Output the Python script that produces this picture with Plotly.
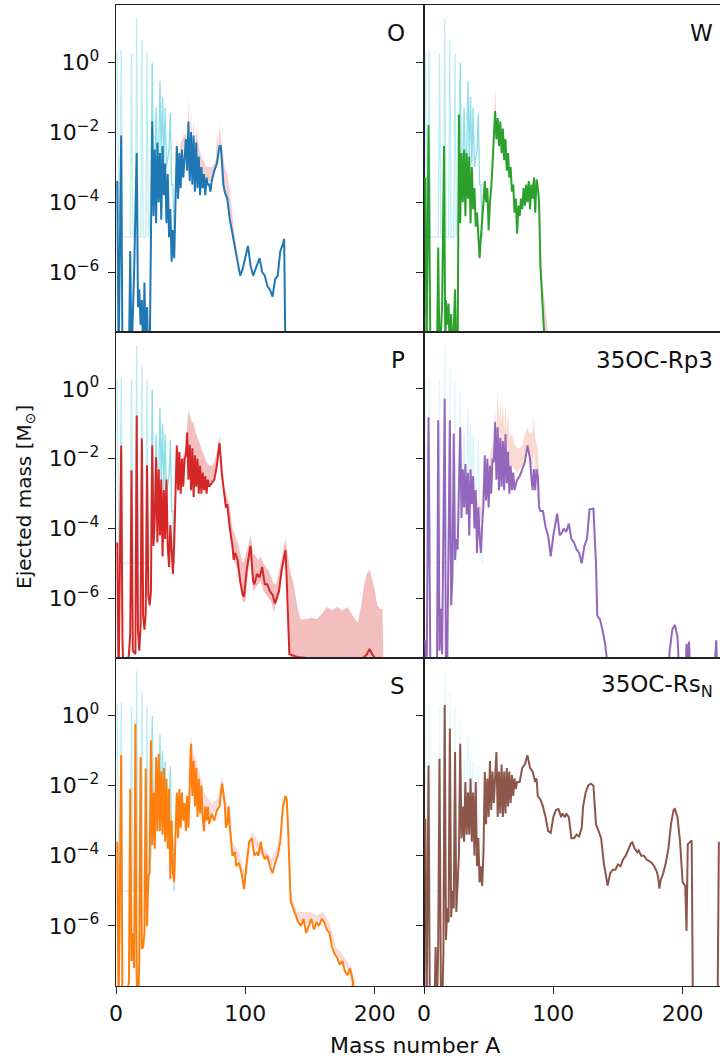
import plotly.graph_objects as go

# ---------------- data: (mass number A, log10 ejected mass [Msun]) ----------------
o_line = [(1,-3.4),(2,-8.5),(4,-2.1),(5,-8.5),(10,-8.5),(11,-5.4),(12,-8.5),(14,-6.0),(16,-2.6),(17,-7.0),
          (18,-6.5),(19,-7.5),(20,-6.8),(21,-8.5),(22,-6.3),(23,-8.5),(24,-7.0),(25,-8.5),(26,-8.5),(28,-1.7),
          (29,-4.4),(30,-2.5),(31,-4.6),(32,-2.3),(33,-4.0),(34,-2.6),(35,-4.5),(36,-2.4),(37,-3.8),(38,-2.9),
          (39,-4.6),(40,-3.2),(41,-5.0),(42,-4.2),(43,-5.7),(44,-4.8),(45,-5.6),(46,-3.6),(47,-2.4),(48,-3.9),
          (49,-2.6),(50,-3.6),(51,-2.5),(52,-3.3),(53,-2.8),(54,-2.2),(55,-3.1),(56,-1.7),(57,-3.4),(58,-2.0),
          (59,-3.5),(60,-2.1),(61,-3.7),(62,-2.3),(63,-3.6),(64,-2.7),(65,-3.8),(66,-3.0),(67,-3.6),(68,-3.2),
          (69,-3.8),(70,-3.3),(71,-3.5),(72,-3.5),(73,-3.7),(74,-3.4),(76,-3.1),(78,-2.9),(80,-2.4),(81,-2.4),
          (82,-2.9),(83,-3.5),(84,-3.7),(86,-3.9),(88,-4.5),(90,-4.9),(92,-5.4),(94,-5.7),(96,-6.1),(98,-5.9),
          (100,-5.6),(102,-5.25),(104,-5.8),(106,-6.1),(108,-5.9),(110,-5.7),(111,-5.6),(113,-6.0),(115,-6.1),
          (117,-6.4),(119,-6.5),(121,-6.7),(123,-6.2),(125,-6.1),(127,-5.4),(129,-5.2),(130,-5.05),(131,-8.5)]
o_band_A  = [46, 47, 48, 50, 54, 55, 56, 57, 58, 59, 60, 61, 62, 64, 66, 70, 74, 77, 78, 79, 80, 81, 82, 84, 86, 88, 90, 92, 94]
o_band_hi = [-3.5,-2.1,-3.2,-2.3,-2.0,-2.6,-1.0,-2.6,-1.3,-2.7,-1.6,-2.7,-1.9,-2.4,-2.7,-3.0,-3.0,-2.8,-2.0,-2.5,
             -1.8,-2.2,-2.4,-3.0,-3.2,-3.7,-4.4,-5.0,-5.5]
o_band_lo = [-3.6,-2.5,-3.6,-2.7,-2.3,-3.0,-1.8,-3.2,-2.1,-3.3,-2.2,-3.5,-2.4,-2.8,-3.1,-3.4,-3.4,-3.1,-2.9,-2.9,
             -2.5,-2.5,-2.9,-3.7,-3.9,-4.5,-4.9,-5.4,-5.7]

w_line = [(1,-3.3),(2,-8.5),(3.5,-1.8),(5,-8.5),(10,-8.5),(11,-5.3),(12,-8.5),(14,-7.0),(15.5,-2.4),(16.5,-8.5),
          (17,-6.8),(18,-7.5),(19,-6.9),(20,-8.5),(21,-7.2),(22,-8.5),(23,-7.6),(24,-6.5),(25,-8.5),(26,-8.5),
          (27,-1.5),(28,-4.6),(29,-2.6),(30,-4.0),(31,-2.5),(32,-4.4),(33,-2.6),(34,-3.9),(35,-2.7),(36,-4.6),
          (37,-3.0),(38,-4.2),(39,-3.6),(40,-4.7),(41,-4.3),(42,-5.0),(43,-5.6),(44,-5.0),(45,-4.6),(46,-4.0),
          (47,-3.4),(48,-4.0),(49,-3.6),(50,-4.8),(51,-4.0),(52,-3.6),(53,-2.9),(54,-2.3),(55,-1.4),(56,-2.2),
          (57,-1.6),(58,-2.4),(59,-1.7),(60,-2.6),(61,-1.9),(62,-2.8),(63,-2.2),(64,-3.1),(65,-2.6),(66,-3.3),
          (67,-3.0),(68,-3.7),(69,-3.5),(70,-4.3),(71,-3.9),(72,-4.9),(73,-4.1),(74,-4.4),(75,-3.9),(76,-4.2),
          (77,-3.6),(78,-4.1),(79,-3.5),(80,-4.0),(81,-3.4),(82,-4.2),(83,-3.5),(84,-3.9),(85,-3.3),(86,-4.3),
          (87,-3.35),(88,-3.6),(89,-4.0),(90,-5.8),(91,-6.4),(92,-7.3),(94,-8.5)]
w_band_A  = [54, 55, 56, 58, 60, 62, 64, 65, 87, 88, 89, 90, 91, 92, 93, 94, 95, 96, 97]
w_band_hi = [-1.8,-0.7,-1.7,-1.8,-2.0,-2.1,-2.8,-3.0,-3.4,-3.4,-3.6,-5.0,-5.8,-6.4,-6.8,-7.1,-7.4,-7.7,-8.5]
w_band_lo = [-2.2,-1.5,-2.2,-2.3,-2.5,-2.6,-3.0,-3.0,-3.4,-3.6,-4.0,-5.9,-6.6,-7.5,-8.5,-8.5,-8.5,-8.5,-8.5]

p_line = [(1,-4.4),(2,-8.5),(4,-1.62),(5,-7.2),(6,-8.5),(10,-7.6),(11,-7.0),(12,-2.33),(13,-7.5),(15,-7.6),
          (16,-0.76),(17,-6.9),(18,-7.5),(19,-6.8),(20,-1.42),(21,-6.5),(22,-6.9),(23,-6.4),(24,-2.19),(25,-5.9),
          (26,-6.2),(27,-5.8),(28,-1.62),(29,-4.5),(30,-3.7),(31,-1.96),(32,-4.4),(33,-2.3),(34,-4.2),(35,-2.6),
          (36,-4.8),(37,-2.9),(38,-4.3),(39,-2.6),(40,-4.5),(41,-5.1),(42,-3.9),(43,-4.8),(44,-5.3),(45,-4.4),
          (46,-3.2),(47,-1.62),(48,-2.9),(49,-1.8),(50,-3.0),(51,-2.0),(52,-2.8),(53,-2.0),(54,-1.9),(55,-1.25),
          (56,-2.6),(57,-1.6),(58,-2.9),(59,-1.7),(60,-3.1),(61,-1.9),(62,-2.8),(63,-2.0),(64,-3.0),(65,-2.2),
          (66,-3.0),(67,-2.4),(68,-2.9),(69,-2.5),(70,-3.0),(71,-2.6),(72,-2.8),(74,-2.7),(76,-2.6),(78,-2.2),
          (80,-1.55),(82,-2.5),(84,-3.2),(85,-3.4),(86,-3.3),(87,-3.7),(88,-4.0),(90,-4.5),(91,-4.9),(92,-4.7),
          (94,-4.9),(96,-5.5),(98,-5.9),(99,-5.95),(101,-5.2),(103,-4.7),(104,-4.5),(106,-5.5),(107,-5.6),
          (109,-5.3),(111,-5.4),(113,-5.1),(115,-5.6),(117,-5.6),(119,-5.8),(121,-5.9),(123,-6.15),(125,-5.9),
          (126,-5.8),(128,-5.2),(131,-4.62),(132,-5.5),(134,-7.6),(140,-7.68),(150,-7.72),(160,-7.75),
          (170,-7.8),(180,-7.8),(190,-7.75),(194,-7.6),(196,-7.45),(198,-7.6),(202,-7.8),(206,-8.0),(207,-8.5)]
p_band_A  = [44,46,47,48,50,52,54,55,56,58,60,62,64,66,68,70,72,74,76,78,80,82,84,86,88,90,92,94,96,98,
             100,102,104,106,108,110,112,114,116,118,120,122,124,126,128,130,131,133,135,137,139,141,143,147,
             151,155,159,163,167,171,175,179,183,187,190,192,194,196,198,200,202,204,206,207]
p_band_hi = [-4.8,-2.9,-1.5,-2.4,-2.3,-1.9,-1.7,-1.0,-0.62,-0.9,-1.0,-1.3,-1.5,-1.7,-1.9,-2.1,-2.2,-2.2,-2.1,-1.8,
             -1.35,-2.1,-2.9,-3.1,-3.4,-4.0,-4.2,-4.4,-4.7,-5.0,-4.8,-4.5,-4.2,-4.7,-4.8,-4.9,-4.8,-5.0,-5.1,-5.2,
             -5.4,-5.6,-5.6,-5.2,-4.9,-4.5,-4.3,-4.8,-5.28,-5.55,-6.0,-6.4,-6.6,-6.6,-6.55,-6.6,-6.45,-6.25,-6.35,
             -6.25,-6.35,-6.25,-6.5,-6.7,-6.1,-5.57,-5.28,-5.19,-5.45,-5.76,-6.2,-6.3,-6.3,-8.5]
p_band_lo = [-5.3,-3.3,-1.9,-2.9,-2.9,-2.5,-2.1,-1.5,-2.2,-2.3,-2.4,-2.5,-2.6,-2.7,-2.7,-2.8,-2.8,-2.7,-2.6,-2.3,
             -1.7,-2.6,-3.3,-3.5,-4.1,-4.7,-5.0,-5.2,-5.7,-6.1,-6.1,-5.3,-4.8,-5.8,-5.7,-5.6,-5.5,-5.8,-5.9,-6.0,
             -6.1,-6.4,-6.1,-6.0,-5.4,-5.0,-4.9,-5.8] + [-8.5] * 26

r_line = [(1,-7.2),(2,-8.5),(3.5,-0.81),(5,-8.5),(10,-8.5),(11,-0.9),(12,-7.5),(13,-6.3),(14,-7.6),(16,-0.28),
          (17,-8.5),(18,-7.8),(20,-0.9),(21,-6.2),(22,-5.4),(23,-1.28),(24,-4.9),(25,-4.3),(26,-4.6),(28,-1.1),
          (29,-3.7),(30,-2.3),(31,-3.4),(32,-2.15),(33,-3.6),(34,-2.4),(35,-4.2),(36,-2.3),(37,-3.3),(38,-2.5),
          (39,-4.0),(40,-2.9),(41,-4.7),(42,-3.4),(43,-4.2),(44,-4.7),(45,-3.9),(46,-3.3),(47,-1.9),(48,-3.2),
          (49,-2.0),(50,-3.4),(51,-2.2),(52,-3.0),(53,-2.0),(54,-2.1),(55,-0.95),(56,-2.6),(57,-1.1),(58,-2.9),
          (59,-1.4),(60,-2.8),(61,-1.5),(62,-2.9),(63,-1.3),(64,-2.7),(65,-1.8),(66,-3.0),(67,-2.2),(68,-2.9),
          (69,-2.4),(70,-2.9),(72,-2.6),(74,-2.5),(76,-2.3),(78,-2.1),(80,-1.62),(82,-2.0),(83,-2.5),(84,-2.9),
          (85,-2.3),(86,-2.9),(87,-2.3),(88,-2.5),(89,-3.4),(90,-3.5),(92,-3.5),(94,-3.96),(96,-4.2),(98,-4.8),
          (100,-4.2),(102,-3.7),(103,-3.57),(105,-4.2),(107,-4.1),(108,-4.0),(110,-4.1),(112,-3.86),(114,-4.3),
          (116,-4.4),(118,-4.6),(120,-4.7),(122,-5.0),(124,-4.5),(126,-4.3),(128,-3.45),(131,-3.43),(133,-5.0),
          (134,-6.5),(136,-6.6),(138,-6.9),(140,-7.3),(142,-7.9),(144,-8.5),(188,-8.5),(190,-7.5),(192,-6.9),
          (194,-6.76),(196,-7.1),(198,-8.5),(202,-8.5),(203,-7.3),(204,-7.8),(205,-7.24),(206,-8.5),
          (224,-8.5),(226,-7.2),(227,-8.5)]
r_band_A  = [40, 42, 44, 46, 47, 48, 50, 52, 54, 55, 56, 57, 58, 59, 60, 61, 62, 63, 64, 65, 66, 68, 70, 72,
             74, 76, 78, 80, 82, 84, 85, 86, 88, 90]
r_band_hi = [-3.0,-3.3,-3.4,-2.6,-1.7,-2.6,-2.3,-1.7,-1.6,-0.6,-1.2,0.05,-1.0,-0.3,-1.0,-0.4,-1.2,-0.4,-1.2,-0.7,
             -1.4,-1.3,-1.6,-1.7,-1.7,-1.6,-1.3,-1.1,-1.3,-1.2,-0.76,-1.4,-1.7,-3.0]
r_band_lo = [-3.3,-3.7,-3.8,-3.0,-2.2,-3.0,-2.8,-2.2,-2.1,-1.2,-2.0,-0.9,-2.0,-1.2,-2.0,-1.3,-2.1,-1.3,-2.0,-1.6,
             -2.2,-2.2,-2.3,-2.4,-2.3,-2.2,-2.0,-1.7,-2.0,-2.2,-1.8,-2.3,-2.4,-3.4]

s_line = [(1,-3.6),(2,-8.5),(4,-1.14),(5,-8.5),(10,-7.6),(11,-2.1),(12,-7.0),(13,-6.2),(14,-7.2),(15,-0.24),
          (16,-7.5),(17,-8.5),(18,-7.0),(19,-1.19),(20,-6.65),(21,-6.6),(22,-6.2),(23,-1.52),(24,-6.0),(25,-4.6),
          (26,-4.48),(27,-0.71),(28,-3.7),(29,-2.2),(30,-3.8),(31,-1.2),(32,-3.3),(33,-1.1),(34,-3.3),(35,-1.6),
          (36,-3.4),(37,-1.5),(38,-3.6),(39,-1.8),(40,-3.8),(41,-2.1),(42,-4.66),(43,-3.0),(44,-4.5),(45,-4.75),
          (46,-3.4),(47,-2.2),(48,-3.5),(49,-2.1),(50,-3.2),(51,-2.2),(52,-3.0),(53,-2.5),(54,-3.3),(55,-2.3),
          (56,-3.2),(57,-1.6),(58,-0.81),(59,-2.3),(60,-1.3),(61,-2.6),(62,-1.5),(63,-2.9),(64,-1.8),(65,-2.8),
          (66,-2.0),(67,-2.9),(68,-3.3),(69,-2.6),(70,-3.0),(71,-2.6),(72,-3.1),(74,-2.8),(76,-3.0),(78,-2.7),
          (80,-2.6),(82,-1.95),(84,-2.5),(85,-3.2),(86,-3.1),(87,-2.6),(88,-3.2),(90,-4.0),(92,-3.9),(93,-4.3),
          (95,-4.2),(97,-4.48),(99,-4.95),(101,-4.2),(103,-3.6),(105,-3.5),(107,-4.0),(109,-3.9),(110,-4.0),
          (112,-3.6),(113,-3.9),(115,-4.1),(117,-4.0),(119,-4.3),(121,-4.5),(123,-4.2),(125,-4.0),(127,-3.6),
          (129,-2.6),(131,-2.3),(132,-2.4),(133,-3.2),(135,-5.3),(137,-5.5),(139,-5.7),(141,-5.9),(143,-6.0),
          (145,-5.8),(147,-6.2),(149,-6.0),(151,-5.8),(153,-6.1),(155,-5.9),(157,-6.0),(159,-5.8),(161,-5.9),
          (163,-6.1),(165,-6.2),(167,-6.6),(169,-6.8),(171,-6.9),(173,-7.1),(175,-7.0),(177,-7.3),(179,-7.4),
          (181,-7.2),(183,-7.55),(185,-8.5)]
s_band_A  = [56,58,60,62,64,66,68,70,74,78,82,84,86,88,90,95,100,105,110,115,120,125,130,132,135,140,145,150,155,
             160,165,170,175,180,185]
s_band_hi = [-1.2,-0.6,-1.1,-1.3,-1.6,-1.8,-2.2,-2.3,-2.5,-2.4,-1.75,-2.2,-2.6,-2.6,-3.6,-3.9,-4.6,-3.3,-3.6,-3.8,
             -4.1,-3.7,-2.6,-2.2,-5.0,-5.6,-5.6,-5.6,-5.7,-5.6,-5.9,-6.6,-6.8,-7.1,-7.6]
s_band_lo = [-2.0,-1.3,-1.8,-2.0,-2.3,-2.4,-2.8,-2.8,-2.8,-2.7,-2.1,-2.5,-2.9,-3.0,-4.0,-4.2,-4.8,-3.5,-3.9,-4.0,
             -4.3,-3.9,-2.7,-2.4,-5.3,-5.8,-5.9,-5.9,-5.9,-5.8,-6.1,-6.8,-7.0,-7.3,-8.5]

n_line = [(1,-2.95),(2,-8.5),(3.5,-1.43),(4.5,-8.5),(8,-8.5),(9,-6.6),(10,-8.5),(11,-6.5),(12,-1.24),(13,-7.6),
          (14,-8.5),(15,-6.8),(16,0.29),(17,-6.4),(18,-5.5),(19,-5.9),(20,-0.38),(21,-5.75),(22,-5.0),(23,-5.5),
          (24,-1.05),(25,-5.6),(26,-4.8),(27,-4.0),(28,-0.81),(29,-3.5),(30,-2.6),(31,-3.6),(32,-1.9),(33,-3.4),
          (34,-2.2),(35,-3.4),(36,-1.8),(37,-3.6),(38,-2.2),(39,-4.0),(40,-1.9),(41,-4.3),(42,-3.5),(43,-4.76),
          (44,-4.3),(45,-4.86),(46,-3.9),(47,-1.62),(48,-3.1),(49,-1.8),(50,-2.9),(51,-1.3),(52,-2.7),(53,-1.6),
          (54,-2.5),(55,-1.6),(56,-1.05),(57,-2.9),(58,-1.6),(59,-2.8),(60,-1.4),(61,-2.9),(62,-1.6),(63,-2.8),
          (64,-1.5),(65,-2.6),(66,-1.6),(67,-2.5),(68,-1.7),(69,-2.3),(70,-1.8),(71,-2.1),(72,-1.9),(74,-1.9),
          (76,-1.5),(78,-1.4),(80,-1.14),(82,-1.5),(84,-1.6),(86,-1.9),(87,-1.8),(88,-2.3),(90,-2.4),(92,-2.6),
          (94,-2.9),(96,-3.3),(98,-3.35),(100,-2.9),(102,-2.7),(104,-2.67),(106,-2.9),(107,-2.8),(109,-2.9),
          (110,-2.8),(112,-2.9),(114,-3.5),(116,-3.5),(118,-3.4),(120,-3.45),(122,-3.2),(123,-2.6),(125,-2.2),
          (127,-2.0),(129,-1.95),(131,-2.0),(133,-3.1),(135,-3.3),(137,-3.5),(139,-4.2),(141,-4.7),(142,-4.85),
          (144,-4.5),(146,-4.4),(148,-4.4),(150,-4.25),(152,-4.3),(154,-4.1),(156,-4.0),(158,-3.8),(160,-3.65),
          (161,-3.62),(163,-3.8),(165,-3.9),(166,-3.85),(168,-4.0),(170,-4.0),(172,-4.1),(174,-4.15),(176,-4.2),
          (178,-4.3),(180,-4.45),(181,-4.6),(182,-4.94),(183,-4.7),(185,-4.5),(187,-4.2),(189,-3.8),(191,-3.1),
          (193,-2.7),(194,-2.67),(196,-2.9),(198,-3.6),(199,-4.3),(200,-4.76),(202,-4.85),(203,-6.14),(204,-3.67),
          (207,-3.57),(208,-8.5),(227,-8.5),(228,-3.6)]

# light cyan reference spikes (same isotopic pattern in every panel): faint tall part and denser lower part
cyan_low_A = [(1,0.3),(2,-4.5),(3,-4.5),(4,0.35),(5,-5.0),(11,-5.0),(12,0.26),(13,-5.0),(15,-5.0),(16,1.25),
              (17,-5.0),(19,-5.0),(20,0.64),(21,-5.0),(23,-5.0),(24,0.26),(25,-5.0),(27,-4.0)]
cyan_mid_A = [(27,-4.0),(28,-0.02),(29,-3.5),(30,-3.0),(31,-1.3),(32,-3.0),(33,-2.6),(34,-0.55),(35,-2.8),
              (36,-1.0),(37,-2.9),(38,-1.31),(39,-3.0),(40,-2.8),(41,-2.5),(42,-1.45),(43,-3.5),(44,-3.5),(45,-5.0)]

panel_names = ["O", "W", "P", "35OC-Rp3", "S", "35OC-Rs<sub>N</sub>"]
line_colors = ["#1f77b4", "#2ca02c", "#d62728", "#9467bd", "#ff7f0e", "#8c564b"]
band_colors = ["rgba(214,39,40,0.22)", "rgba(214,39,40,0.22)", "rgba(214,39,40,0.3)",
               "rgba(235,110,80,0.25)", "rgba(214,39,40,0.16)", None]
cyan_alpha_low = [0.28, 0.28, 0.28, 0.12, 0.28, 0.1]
cyan_alpha_mid = [0.5, 0.5, 0.5, 0.15, 0.45, 0.1]

y_tickvals = [1, 1e-2, 1e-4, 1e-6]
y_ticktext = ["10<sup>0</sup>", "10<sup>−2</sup>", "10<sup>−4</sup>", "10<sup>−6</sup>"]
x_tickvals = [0, 100, 200]
x_ticktext = ["0", "100", "200"]

lines = [o_line, w_line, p_line, r_line, s_line, n_line]
bands = [(o_band_A, o_band_lo, o_band_hi), (w_band_A, w_band_lo, w_band_hi), (p_band_A, p_band_lo, p_band_hi),
         (r_band_A, r_band_lo, r_band_hi), (s_band_A, s_band_lo, s_band_hi), None]

# ---------------- layout geometry (pixels) ----------------
W, H = 720, 1058
col_px = [(116, 423.5), (424, 720)]
col_range = [237.7, 228.9]
row_px = [(5, 332), (332, 658), (658, 986)]
Y_RANGE = [-7.71, 1.63]
FONT = "DejaVu Sans"
TICK_SIZE = 22

def tolog(v):
    return 10 ** v

fig = go.Figure()
layout = dict(width=W, height=H, margin=dict(l=0, r=0, t=0, b=0, pad=0), autosize=False,
              paper_bgcolor="white", plot_bgcolor="white", showlegend=False,
              font=dict(family=FONT, size=TICK_SIZE, color="black"))
annotations = []

for i in range(6):
    r, c = divmod(i, 2)
    n = i + 1
    xa = "x" if n == 1 else f"x{n}"
    ya = "y" if n == 1 else f"y{n}"
    band = bands[i]
    if band is not None:
        bA, blo, bhi = band
        fig.add_trace(go.Scatter(x=bA, y=[tolog(v) for v in blo], mode="lines", line=dict(width=0),
                                 xaxis=xa, yaxis=ya, hoverinfo="skip"))
        fig.add_trace(go.Scatter(x=bA, y=[tolog(v) for v in bhi], mode="lines", line=dict(width=0),
                                 fill="tonexty", fillcolor=band_colors[i], xaxis=xa, yaxis=ya, hoverinfo="skip"))
    for seg, alph in ((cyan_low_A, cyan_alpha_low[i]), (cyan_mid_A, cyan_alpha_mid[i])):
        fig.add_trace(go.Scatter(x=[p[0] for p in seg], y=[tolog(p[1]) for p in seg], mode="lines",
                                 line=dict(color=f"rgba(23,190,207,{alph})", width=1.3),
                                 xaxis=xa, yaxis=ya, hoverinfo="skip"))
    ln = lines[i]
    fig.add_trace(go.Scatter(x=[p[0] for p in ln], y=[tolog(p[1]) for p in ln], mode="lines",
                             line=dict(color=line_colors[i], width=2.0), xaxis=xa, yaxis=ya))

    x0, x1 = col_px[c]
    y0, y1 = row_px[r]
    bottom = (r == 2)
    layout["xaxis" if n == 1 else f"xaxis{n}"] = dict(
        domain=[x0 / W, x1 / W], range=[0, col_range[c]], anchor=ya, automargin=False,
        showline=True, linecolor="#222", linewidth=1.4, mirror=True,
        showgrid=False, zeroline=False,
        ticks="outside" if bottom else "", ticklen=7, tickwidth=1.3, tickcolor="#222",
        tickvals=x_tickvals, ticktext=x_ticktext, showticklabels=bottom,
        tickfont=dict(family=FONT, size=TICK_SIZE, color="#111"))
    layout["yaxis" if n == 1 else f"yaxis{n}"] = dict(
        domain=[1 - y1 / H, 1 - y0 / H], type="log", range=Y_RANGE, anchor=xa, automargin=False,
        showline=True, linecolor="#222", linewidth=1.4, mirror=(c == 0),
        showgrid=False, zeroline=False,
        ticks="outside", ticklen=7, tickwidth=1.3, tickcolor="#222",
        tickvals=y_tickvals, ticktext=y_ticktext, showticklabels=(c == 0),
        tickfont=dict(family=FONT, size=TICK_SIZE, color="#111"), ticklabelstandoff=4)
    right_px = 407 if c == 0 else 715
    annotations.append(dict(text=panel_names[i], xref="paper", yref="paper",
                            x=right_px / W, y=1 - (y0 + 28) / H, xanchor="right", yanchor="middle",
                            showarrow=False, font=dict(family=FONT, size=23, color="#111")))

annotations.append(dict(text="Mass number A", xref="paper", yref="paper", x=415 / W, y=1 - 1045 / H,
                        xanchor="center", yanchor="middle", showarrow=False,
                        font=dict(family=FONT, size=22, color="#111")))
annotations.append(dict(text="Ejected mass [M<sub>⊙</sub>]", xref="paper", yref="paper", x=25 / W,
                        y=1 - 497 / H, xanchor="center", yanchor="middle", textangle=-90, showarrow=False,
                        font=dict(family=FONT, size=20, color="#111")))
layout["annotations"] = annotations
fig.update_layout(**layout)
fig.write_html("out.html")
